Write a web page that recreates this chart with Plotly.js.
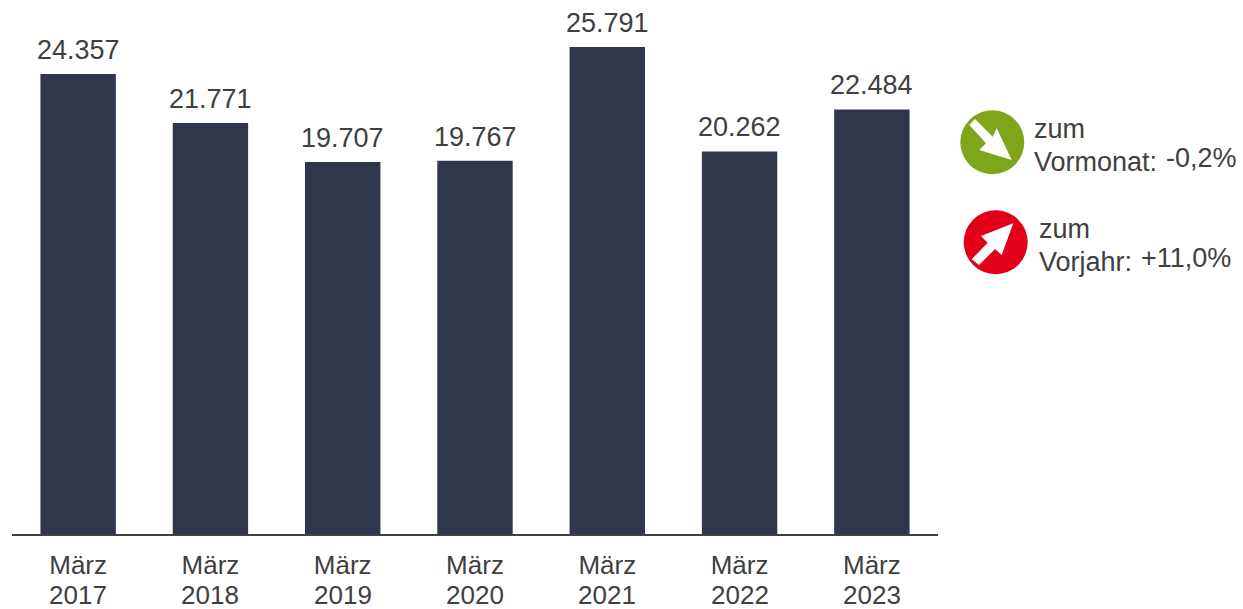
<!DOCTYPE html>
<html>
<head>
<meta charset="utf-8">
<script src="https://cdn.plot.ly/plotly-3.0.1.min.js"></script>
<style>html,body{margin:0;padding:0;background:#fff}#chart{width:1243px;height:609px}</style>
</head>
<body>
<div id="chart"></div>
<script>
const categories = ["März 2017","März 2018","März 2019","März 2020","März 2021","März 2022","März 2023"];
const years = ["2017","2018","2019","2020","2021","2022","2023"];
const monthLabels = ["März","März","März","März","März","März","März"];
const values = [24357,21771,19707,19767,25791,20262,22484];
const valueLabels = ["24.357","21.771","19.707","19.767","25.791","20.262","22.484"];

const W = 1243, H = 609;
const M = {l:12, r:305, t:5, b:75};
const PW = W - M.l - M.r, PH = H - M.t - M.b;
const FONT = '"Liberation Sans", Arial, sans-serif';
const TEXT = '#404040';
const px = x => (x - M.l) / PW;
const py = y => (H - M.b - y) / PH;

function poly(points){
  return 'M' + points.map(p => px(p[0]) + ',' + py(p[1])).join('L') + 'Z';
}
function circle(cx, cy, r, color){
  return {type:'circle', xref:'paper', yref:'paper', x0:px(cx-r), x1:px(cx+r), y0:py(cy+r), y1:py(cy-r),
          fillcolor:color, line:{width:0}, layer:'above'};
}
function arrow(points){
  return {type:'path', xref:'paper', yref:'paper', path:poly(points), fillcolor:'#ffffff', line:{width:0}, layer:'above'};
}
function label(text, x, y){
  return {text:text, xref:'paper', yref:'paper', x:px(x), y:py(y), xanchor:'left', yanchor:'middle',
          showarrow:false, align:'left', font:{family:FONT, size:27, color:TEXT}};
}

const greenArrow = [[1011.7,160],[979.3,150],[986,143.3],[969.3,125],[975,119],[992.7,136.7],[996.7,128.3]];
const redArrow = [[1013.3,223.3],[981,236],[987.7,242.7],[971.7,259.3],[979,265],[995,249],[1001.7,255]];

const valueNotes = categories.map((c,i) => ({
  text:valueLabels[i], x:c, y:values[i], xref:'x', yref:'y', xanchor:'center', yanchor:'bottom',
  yshift:7, showarrow:false, font:{family:FONT, size:27, color:TEXT}
}));
const yearNotes = categories.map((c,i) => ({
  text:years[i], x:c, y:py(595), xref:'x', yref:'paper', xanchor:'center', yanchor:'middle',
  showarrow:false, font:{family:FONT, size:26, color:TEXT}
}));

Plotly.newPlot('chart', [{
  type:'bar',
  x:categories,
  y:values,
  marker:{color:'#30374d', line:{width:0}},
  width:0.57,
  hoverinfo:'skip'
}], {
  width:W, height:H,
  margin:{l:M.l, r:M.r, t:M.t, b:M.b, pad:0},
  paper_bgcolor:'#ffffff',
  plot_bgcolor:'#ffffff',
  showlegend:false,
  xaxis:{type:'category', showgrid:false, zeroline:false, showline:true, linecolor:'#404040', linewidth:2,
         ticks:'', tickmode:'array', tickvals:categories, ticktext:monthLabels, ticklabelstandoff:7,
         tickfont:{family:FONT, size:26, color:TEXT}, tickangle:0, automargin:false},
  yaxis:{range:[0,28015], visible:false, showgrid:false, zeroline:false},
  shapes:[
    circle(992.3,142.3,32,'#7fa51a'), arrow(greenArrow),
    circle(995.7,242.3,32,'#e2001a'), arrow(redArrow)
  ],
  annotations:valueNotes.concat(yearNotes, [
    label('zum',1032,129), label('Vormonat:',1032,162), label('-0,2%',1164,158),
    label('zum',1037,229), label('Vorjahr:',1037,262), label('+11,0%',1139,258)
  ])
}, {displayModeBar:false, staticPlot:true});
</script>
</body>
</html>
